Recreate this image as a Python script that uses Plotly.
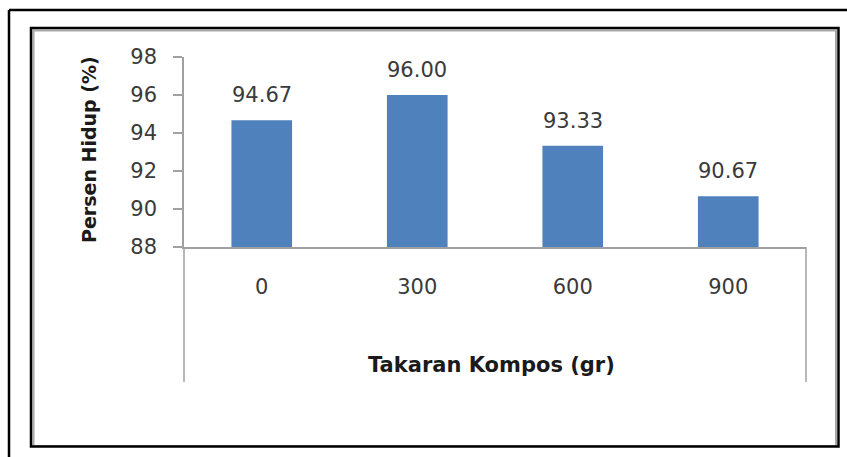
import plotly.graph_objects as go

# ---- data ----
categories = ["0", "300", "600", "900"]
values = [94.67, 96.00, 93.33, 90.67]
value_labels = ["94.67", "96.00", "93.33", "90.67"]
y_ticks = [88, 90, 92, 94, 96, 98]

W, H = 847, 457
L, R, T, B = 184, 41, 57, 210
PW, PH = W - L - R, H - T - B

def px(x):
    return (x - L) / PW

def py(y):
    return (H - B - y) / PH

AXIS = "#a0a0a0"
TXT = "#3a3a3a"

fig = go.Figure()
fig.add_trace(go.Bar(
    x=categories, y=values, width=0.39,
    marker=dict(color="#4F81BD", line=dict(width=0)),
    cliponaxis=False, showlegend=False, hoverinfo="skip",
))

annotations = []
for i, (v, lab) in enumerate(zip(values, value_labels)):
    annotations.append(dict(
        x=i, y=v, xref="x", yref="y", text=lab, showarrow=False,
        yanchor="bottom", yshift=11,
        font=dict(family="DejaVu Sans", size=21, color=TXT),
    ))
annotations.append(dict(
    x=px(491), y=py(365), xref="paper", yref="paper",
    text="<b>Takaran Kompos (gr)</b>", showarrow=False,
    xanchor="center", yanchor="middle",
    font=dict(family="DejaVu Sans", size=21, color="#1a1a1a"),
))
annotations.append(dict(
    x=px(89), y=py(150), xref="paper", yref="paper",
    text="<b>Persen Hidup (%)</b>", showarrow=False, textangle=-90,
    xanchor="center", yanchor="middle",
    font=dict(family="DejaVu Sans", size=19, color="#1a1a1a"),
))

shapes = [
    # outer frame (top and left)
    dict(type="line", xref="paper", yref="paper", x0=px(9), x1=px(850), y0=py(10), y1=py(10),
         line=dict(color="black", width=2.5)),
    dict(type="line", xref="paper", yref="paper", x0=px(9), x1=px(9), y0=py(10), y1=py(460),
         line=dict(color="black", width=2.5)),
    # inner frame gray shadow
    dict(type="rect", xref="paper", yref="paper", x0=px(33.5), x1=px(836), y0=py(30.5), y1=py(446),
         line=dict(color="#a8a8a8", width=2)),
    # inner frame black
    dict(type="rect", xref="paper", yref="paper", x0=px(31), x1=px(838.5), y0=py(28), y1=py(446.5),
         line=dict(color="black", width=2.5)),
    # axis extensions below
    dict(type="line", xref="paper", yref="paper", x0=0, x1=0, y0=0, y1=py(382),
         line=dict(color=AXIS, width=1.5)),
    dict(type="line", xref="paper", yref="paper", x0=1, x1=1, y0=0, y1=py(382),
         line=dict(color=AXIS, width=1.5)),
]

fig.update_layout(
    width=W, height=H,
    margin=dict(l=L, r=R, t=T, b=B, pad=0),
    paper_bgcolor="white", plot_bgcolor="white",
    bargap=0.61,
    xaxis=dict(
        type="category", range=[-0.5, 3.5], showgrid=False, zeroline=False,
        showline=True, linecolor=AXIS, linewidth=1.5, ticks="",
        tickfont=dict(family="DejaVu Sans", size=21, color=TXT),
        ticklabelstandoff=20,
    ),
    yaxis=dict(
        range=[88, 98], tickvals=y_ticks, ticktext=[str(t) for t in y_ticks],
        showgrid=False, zeroline=False,
        showline=True, linecolor=AXIS, linewidth=1.5,
        ticks="outside", ticklen=9, tickcolor=AXIS, tickwidth=1.5,
        tickfont=dict(family="DejaVu Sans", size=21, color=TXT),
        ticklabelstandoff=12,
    ),
    annotations=annotations,
    shapes=shapes,
)

fig.write_html("out.html")
